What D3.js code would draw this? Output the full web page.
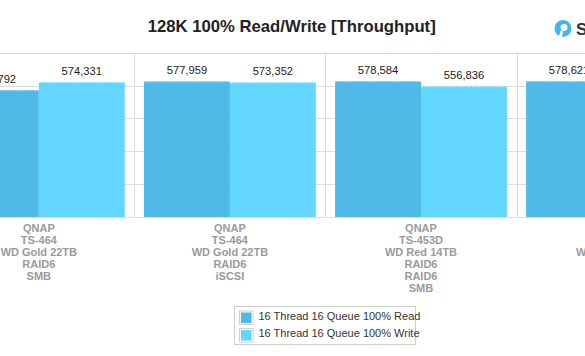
<!DOCTYPE html>
<html><head><meta charset="utf-8">
<script src="https://cdn.jsdelivr.net/npm/d3@7"></script>
<style>html,body{margin:0;padding:0;background:#fff;overflow:hidden}svg{display:block;font-family:"Liberation Sans",Arial,sans-serif}</style>
</head><body>
<svg id="c" width="585" height="356"></svg>
<script>
const title = "128K 100% Read/Write [Throughput]";
const categories = [
  ["QNAP","TS-464","WD Gold 22TB","RAID6","SMB"],
  ["QNAP","TS-464","WD Gold 22TB","RAID6","iSCSI"],
  ["QNAP","TS-453D","WD Red 14TB","RAID6","RAID6","SMB"],
  ["QNAP","TS-453D","WD Red 14TB","RAID6","iSCSI"]
];
const seriesNames = ["16 Thread 16 Queue 100% Read","16 Thread 16 Queue 100% Write"];
const readValues  = [540792, 577959, 578584, 578621];
const writeValues = [574331, 573352, 556836, 560000];
const yTicks = [0, 140000, 280000, 420000, 560000, 700000];
const colors = ["#4FB9E8", "#63D6FD"];

const svg = d3.select("#c");
const catIds = categories.map((c,i)=>i);
const x = d3.scaleBand().domain(catIds).range([-56.7, 707.6]).paddingInner(0).paddingOuter(0);
const xs = d3.scaleBand().domain([0,1]).range([9.6, x.bandwidth()-9.6]).padding(0);
const y = d3.scaleLinear().domain([0, 700000]).range([217.3, 52.6]);

// horizontal gridlines
svg.append("g").selectAll("line").data(yTicks).join("line")
  .attr("x1",0).attr("x2",585).attr("y1",d=>Math.round(y(d))+0.5).attr("y2",d=>Math.round(y(d))+0.5)
  .attr("stroke","#dcdcdc").attr("stroke-width",1);
// vertical separators
const seps = catIds.map(i=>x(i)).concat([x(catIds[catIds.length-1])+x.bandwidth()]);
svg.append("g").selectAll("line").data(seps).join("line")
  .attr("x1",d=>Math.round(d)+0.5).attr("x2",d=>Math.round(d)+0.5)
  .attr("y1",Math.round(y(700000))).attr("y2",Math.round(y(0)))
  .attr("stroke","#dcdcdc").attr("stroke-width",1);

// bars
const rows = [];
catIds.forEach(i=>{ rows.push({c:i,s:0,v:readValues[i]}); rows.push({c:i,s:1,v:writeValues[i]}); });
svg.append("g").selectAll("rect").data(rows).join("rect")
  .attr("x",d=>x(d.c)+xs(d.s)).attr("width",xs.bandwidth())
  .attr("y",d=>y(d.v)).attr("height",d=>y(0)-y(d.v))
  .attr("fill",d=>colors[d.s]);
// subtle light edge
svg.append("g").selectAll("line").data(rows).join("line")
  .attr("x1",d=>x(d.c)+xs(d.s)).attr("x2",d=>x(d.c)+xs(d.s)+xs.bandwidth())
  .attr("y1",d=>y(d.v)+0.5).attr("y2",d=>y(d.v)+0.5)
  .attr("stroke","rgba(255,255,255,0.45)").attr("stroke-dasharray","2,1");

// baseline
svg.append("line").attr("x1",0).attr("x2",585).attr("y1",Math.round(y(0))+0.5).attr("y2",Math.round(y(0))+0.5)
  .attr("stroke","#dcdcdc");

// value labels
const fmt = d3.format(",");
svg.append("g").selectAll("text").data(rows).join("text")
  .attr("x",d=>x(d.c)+xs(d.s)+xs.bandwidth()/2).attr("y",d=>y(d.v)-7)
  .attr("text-anchor","middle").attr("font-size","11.2px").attr("fill","#222")
  .text(d=>fmt(d.v));

// category labels
const cl = svg.append("g").selectAll("text").data(catIds).join("text")
  .attr("text-anchor","middle").attr("font-size","11px").attr("font-weight","bold").attr("fill","#9a9a9a")
  .attr("x",i=>x(i)+x.bandwidth()/2).attr("y",231.6);
cl.selectAll("tspan").data(i=>categories[i].map(t=>({t,i}))).join("tspan")
  .attr("x",d=>x(d.i)+x.bandwidth()/2).attr("dy",(d,k)=>k===0?0:12.15).text(d=>d.t);

// title
svg.append("text").attr("x",291.7).attr("y",31.5).attr("text-anchor","middle")
  .attr("font-size","16.7px").attr("font-weight","bold").attr("fill","#222").text(title);

// logo
const lg = svg.append("g");
lg.append("circle").attr("cx",563).attr("cy",28.5).attr("r",8.5).attr("fill","#44B4EA");
lg.append("circle").attr("cx",564).attr("cy",27.5).attr("r",3.4).attr("fill","#fff");
lg.append("path").attr("d","M558.5,37.5 L560.8,30.5 L563,31.5 L562,37.5 Z").attr("fill","#fff");
lg.append("text").attr("x",576).attr("y",35).attr("font-size","17px").attr("font-weight","bold").attr("fill","#333").text("StorageReview");

// legend
const lgd = svg.append("g");
lgd.append("rect").attr("x",234.5).attr("y",306.5).attr("width",181).attr("height",38).attr("fill","#fff").attr("stroke","#cfcfcf");
const li = lgd.selectAll("g").data(seriesNames).join("g").attr("transform",(d,k)=>`translate(0,${k*17.6})`);
li.append("rect").attr("x",239.5).attr("y",311).attr("width",13.5).attr("height",13.5).attr("fill","#fff").attr("stroke","#cfcfcf");
li.append("rect").attr("x",241).attr("y",312.5).attr("width",10.5).attr("height",10.5).attr("fill",(d,k)=>colors[k]);
li.append("text").attr("x",258.5).attr("y",319.7).attr("font-size","11px").attr("fill","#333").text(d=>d);
</script>
</body></html>
